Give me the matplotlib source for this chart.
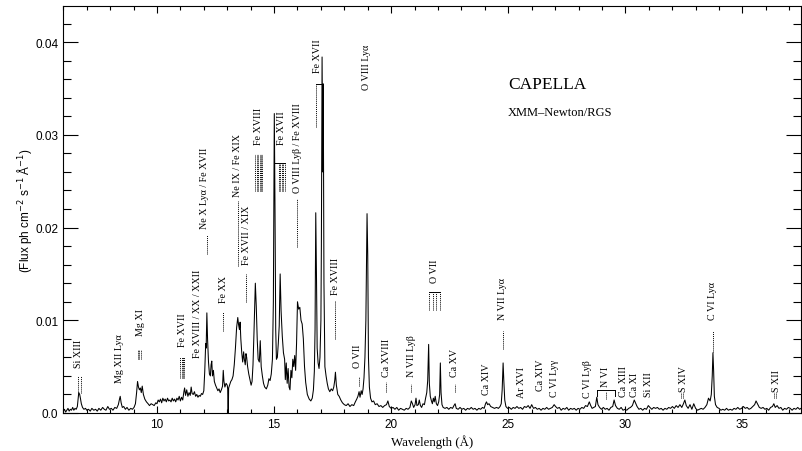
import matplotlib.pyplot as plt
import numpy as np
from matplotlib.ticker import MultipleLocator

# RGS spectrum of Capella: (wavelength in A, flux in 1e-3 ph cm^-2 s^-1 A^-1)
spec_short = [
    (6.00, 0.2), (6.05, 0.4), (6.10, 0.1), (6.15, 0.3), (6.20, 0.5), (6.25, 0.2),
    (6.30, 0.4), (6.35, 0.3), (6.40, 0.6), (6.45, 0.3), (6.50, 0.5), (6.55, 0.4),
    (6.60, 0.7), (6.63, 1.5), (6.66, 2.2), (6.70, 2.0), (6.73, 1.6), (6.77, 1.0),
    (6.82, 0.6), (6.88, 0.4), (6.95, 0.5), (7.00, 0.3), (7.08, 0.4), (7.15, 0.2),
    (7.22, 0.5), (7.30, 0.3), (7.38, 0.4), (7.45, 0.2), (7.52, 0.5), (7.60, 0.3),
    (7.68, 0.6), (7.75, 0.4), (7.82, 0.3), (7.90, 0.7), (7.97, 0.4), (8.05, 0.5),
    (8.12, 0.3), (8.20, 0.6), (8.28, 0.5), (8.35, 0.9), (8.40, 1.5), (8.43, 1.8),
    (8.47, 1.1), (8.52, 0.6), (8.58, 0.7), (8.65, 0.4), (8.72, 0.6), (8.80, 0.3),
    (8.88, 0.5), (8.95, 0.4), (9.02, 0.6), (9.08, 1.0), (9.13, 2.2), (9.17, 3.4),
    (9.21, 2.8), (9.25, 2.5), (9.29, 2.7), (9.33, 2.2), (9.37, 2.9), (9.42, 2.0),
    (9.48, 1.5), (9.55, 1.2), (9.62, 1.0), (9.68, 0.8), (9.75, 1.0), (9.82, 0.9),
    (9.88, 0.8), (9.95, 1.1), (10.00, 1.0), (10.05, 1.4), (10.10, 1.2), (10.15, 1.5),
    (10.20, 1.1), (10.25, 1.6), (10.30, 1.3), (10.35, 1.5), (10.40, 1.2), (10.45, 1.6),
    (10.50, 1.3), (10.55, 1.4), (10.60, 1.2), (10.65, 1.6), (10.70, 1.3), (10.75, 1.5),
    (10.80, 1.2), (10.85, 1.6), (10.90, 1.4), (10.95, 1.8), (11.00, 1.3), (11.05, 1.7),
    (11.10, 1.4), (11.15, 2.3), (11.18, 2.7), (11.22, 1.9), (11.27, 2.5), (11.32, 1.8),
    (11.37, 2.2), (11.42, 1.9), (11.46, 2.8), (11.50, 2.1), (11.55, 2.0), (11.60, 2.3),
    (11.65, 1.8), (11.70, 2.0), (11.75, 1.7), (11.80, 1.9), (11.85, 1.8), (11.90, 2.1),
    (11.95, 2.0), (12.00, 2.4),
]
spec_iron = [
    (12.04, 4.5), (12.08, 7.5), (12.10, 7.0), (12.13, 10.8), (12.16, 8.0), (12.20, 5.5),
    (12.24, 4.2), (12.28, 4.0), (12.31, 5.2), (12.34, 5.6), (12.37, 4.0), (12.41, 4.6),
    (12.45, 3.4), (12.50, 3.0), (12.55, 2.7), (12.60, 2.4), (12.65, 2.6), (12.70, 2.2),
    (12.75, 2.5), (12.80, 2.9), (12.83, 4.6), (12.86, 3.4), (12.90, 2.8), (12.95, 3.2),
    (13.00, 3.0), (13.02, 2.6), (13.04, -1.0), (13.06, 2.7), (13.10, 3.0), (13.15, 3.4),
    (13.20, 3.6), (13.25, 4.0), (13.30, 5.2), (13.35, 7.0), (13.40, 9.2), (13.45, 10.3),
    (13.48, 9.6), (13.52, 9.0), (13.55, 9.8), (13.58, 8.0), (13.62, 6.5), (13.66, 5.5),
    (13.70, 6.6), (13.73, 5.8), (13.77, 5.2), (13.80, 6.4), (13.83, 6.0), (13.87, 5.0),
    (13.92, 4.2), (13.97, 3.6), (14.02, 3.0), (14.06, 3.4), (14.10, 5.2), (14.14, 8.5),
    (14.20, 14.0), (14.24, 11.5), (14.28, 8.0), (14.32, 5.8), (14.37, 5.5), (14.41, 7.8),
    (14.45, 5.0), (14.50, 4.0), (14.55, 3.2), (14.60, 2.8), (14.67, 2.6), (14.73, 3.0),
    (14.78, 3.7), (14.83, 3.5), (14.88, 4.2), (14.93, 5.8), (14.97, 12.0), (15.01, 32.3),
    (15.04, 22.0), (15.07, 9.0), (15.10, 5.8), (15.14, 6.0), (15.18, 7.5), (15.22, 9.4),
    (15.26, 15.0), (15.30, 11.0), (15.35, 8.3), (15.40, 6.5), (15.45, 5.8), (15.48, 3.6),
    (15.52, 5.4), (15.56, 3.2), (15.60, 4.8), (15.64, 2.8), (15.68, 2.5), (15.72, 4.6),
    (15.76, 3.8), (15.80, 5.8), (15.84, 5.0), (15.88, 6.2), (15.92, 4.6), (15.96, 7.5),
    (16.00, 12.0), (16.05, 11.2), (16.10, 11.4), (16.15, 10.0), (16.20, 9.6), (16.25, 8.0),
    (16.30, 5.0), (16.35, 3.3), (16.42, 2.0), (16.50, 1.5), (16.57, 1.3), (16.63, 1.6),
    (16.68, 2.5), (16.72, 4.5), (16.75, 9.0), (16.78, 21.6), (16.81, 15.0), (16.84, 7.0),
    (16.88, 5.4), (16.92, 4.8), (16.96, 6.0), (17.00, 10.0), (17.02, 18.0), (17.05, 38.4),
    (17.08, 26.0), (17.10, 35.5), (17.13, 14.0), (17.17, 5.0), (17.22, 4.0), (17.27, 3.2),
    (17.32, 2.6), (17.38, 2.3), (17.44, 2.6), (17.50, 2.4), (17.55, 2.8), (17.59, 3.5),
    (17.62, 4.4), (17.66, 3.0), (17.72, 2.0), (17.78, 1.8), (17.85, 1.4), (17.92, 1.1),
    (18.00, 0.9), (18.08, 0.8), (18.16, 1.0), (18.24, 0.7), (18.32, 0.9), (18.40, 0.8),
    (18.47, 1.2), (18.53, 1.5), (18.58, 1.8), (18.63, 2.3), (18.67, 1.7), (18.72, 2.4),
    (18.76, 2.0), (18.80, 2.6), (18.84, 3.8), (18.88, 6.0), (18.92, 10.0), (18.95, 16.5),
    (18.97, 21.5), (19.00, 17.0), (19.03, 6.0), (19.07, 2.8),
]
spec_long = [
    (19.12, 1.6), (19.18, 1.2), (19.25, 1.3), (19.32, 0.9), (19.40, 1.0), (19.48, 0.7),
    (19.56, 0.8), (19.64, 0.6), (19.72, 0.8), (19.80, 0.9), (19.86, 1.3), (19.92, 0.7),
    (20.00, 0.5), (20.08, 0.6), (20.16, 0.4), (20.24, 0.6), (20.32, 0.3), (20.40, 0.5),
    (20.48, 0.4), (20.56, 0.3), (20.64, 0.5), (20.72, 0.4), (20.80, 0.6), (20.86, 1.3),
    (20.91, 1.0), (20.96, 0.6), (21.02, 0.9), (21.06, 1.6), (21.10, 0.8), (21.16, 0.9),
    (21.20, 1.4), (21.25, 0.8), (21.30, 0.6), (21.36, 1.0), (21.42, 0.9), (21.47, 1.6),
    (21.52, 2.2), (21.56, 3.5), (21.60, 7.4), (21.63, 3.2), (21.67, 1.8), (21.72, 1.3),
    (21.76, 1.0), (21.80, 1.6), (21.84, 1.2), (21.88, 1.8), (21.93, 1.0), (21.98, 0.8),
    (22.03, 1.2), (22.07, 2.0), (22.10, 5.4), (22.13, 2.2), (22.17, 0.9), (22.22, 0.6),
    (22.30, 0.5), (22.38, 0.6), (22.46, 0.4), (22.54, 0.6), (22.62, 0.5), (22.68, 0.8),
    (22.73, 1.0), (22.78, 0.5), (22.86, 0.4), (22.94, 0.6), (23.02, 0.4), (23.10, 0.5),
    (23.18, 0.3), (23.26, 0.5), (23.34, 0.4), (23.42, 0.6), (23.50, 0.4), (23.58, 0.5),
    (23.66, 0.3), (23.74, 0.5), (23.82, 0.4), (23.90, 0.6), (23.97, 0.5), (24.03, 1.0),
    (24.07, 1.2), (24.12, 0.9), (24.18, 1.0), (24.25, 0.7), (24.33, 0.6), (24.41, 0.5),
    (24.50, 0.6), (24.58, 0.5), (24.65, 0.7), (24.70, 1.0), (24.74, 2.5), (24.78, 5.4),
    (24.81, 3.5), (24.85, 1.4), (24.90, 0.7), (24.97, 0.5), (25.05, 0.6), (25.13, 0.4),
    (25.21, 0.6), (25.29, 0.5), (25.37, 0.7), (25.45, 0.5), (25.53, 0.6), (25.61, 0.4),
    (25.69, 0.7), (25.77, 0.6), (25.85, 0.8), (25.93, 0.5), (26.00, 0.9), (26.08, 0.5),
    (26.16, 0.6), (26.24, 0.4), (26.32, 0.5), (26.40, 0.3), (26.48, 0.5), (26.56, 0.4),
    (26.64, 0.6), (26.72, 0.4), (26.80, 0.5), (26.88, 0.6), (26.96, 0.9), (27.02, 0.7),
    (27.10, 0.5), (27.18, 0.6), (27.26, 0.3), (27.34, 0.5), (27.42, 0.4), (27.50, 0.6),
    (27.58, 0.3), (27.66, 0.5), (27.74, 0.4), (27.82, 0.5), (27.90, 0.3), (27.98, 0.5),
    (28.06, 0.4), (28.14, 0.6), (28.22, 0.5), (28.30, 0.8), (28.38, 0.7), (28.46, 1.2),
    (28.52, 0.8), (28.58, 0.5), (28.65, 0.6), (28.72, 0.7), (28.78, 1.7), (28.83, 0.9),
    (28.90, 0.6), (28.98, 0.4), (29.06, 0.6), (29.14, 0.4), (29.22, 0.5), (29.30, 0.3),
    (29.38, 0.6), (29.46, 0.7), (29.52, 1.4), (29.58, 0.8), (29.66, 0.5), (29.74, 0.4),
    (29.82, 0.6), (29.90, 0.3), (29.98, 0.4), (30.06, 0.3), (30.14, 0.5), (30.22, 0.6),
    (30.30, 0.8), (30.38, 1.4), (30.43, 1.1), (30.50, 0.7), (30.58, 0.4), (30.66, 0.5),
    (30.74, 0.3), (30.82, 0.5), (30.90, 0.4), (30.98, 0.8), (31.05, 0.6), (31.13, 0.4),
    (31.21, 0.6), (31.29, 0.5), (31.37, 0.6), (31.45, 0.4), (31.53, 0.5), (31.61, 0.3),
    (31.69, 0.5), (31.77, 0.4), (31.85, 0.6), (31.93, 0.5), (32.01, 0.7), (32.09, 0.5),
    (32.17, 0.8), (32.25, 0.6), (32.33, 0.9), (32.41, 0.6), (32.48, 1.0), (32.54, 1.4),
    (32.60, 0.8), (32.68, 0.5), (32.76, 0.9), (32.84, 0.4), (32.92, 1.0), (33.00, 0.5),
    (33.08, 0.3), (33.16, 0.4), (33.24, 0.5), (33.32, 0.4), (33.40, 0.6), (33.48, 0.9),
    (33.55, 1.6), (33.62, 1.3), (33.67, 2.0), (33.71, 4.0), (33.74, 6.5), (33.77, 4.5),
    (33.80, 1.8), (33.85, 0.9), (33.92, 0.6), (34.00, 0.5), (34.08, 0.3), (34.16, 0.4),
    (34.24, 0.3), (34.32, 0.5), (34.40, 0.3), (34.48, 0.4), (34.56, 0.3), (34.64, 0.5),
    (34.72, 0.4), (34.80, 0.6), (34.88, 0.4), (34.96, 0.5), (35.04, 0.7), (35.12, 0.5),
    (35.20, 0.6), (35.28, 0.4), (35.36, 0.5), (35.44, 0.7), (35.52, 0.9), (35.58, 1.3),
    (35.64, 1.0), (35.72, 0.6), (35.80, 0.5), (35.88, 0.6), (35.96, 0.4), (36.04, 0.5),
    (36.12, 0.3), (36.20, 0.6), (36.28, 0.7), (36.34, 1.0), (36.40, 0.6), (36.48, 0.8),
    (36.56, 0.5), (36.64, 0.6), (36.72, 0.3), (36.80, 0.5), (36.88, 0.4), (36.96, 0.6),
    (37.04, 0.5), (37.12, 0.3), (37.20, 0.5), (37.28, 0.4), (37.36, 0.6), (37.44, 0.4),
    (37.50, 0.5),
]

# line identifications and the wavelength each label sits at
line_names = [
    "Si XIII", "Mg XII Lyα", "Mg XI", "Fe XVII", "Fe XVIII / XX / XXII",
    "Ne X Lyα / Fe XVII", "Fe XX", "Ne IX / Fe XIX", "Fe XVII / XIX", "Fe XVIII",
    "Fe XVII", "O VIII Lyβ / Fe XVIII", "Fe XVII", "Fe XVIII", "O VIII Lyα",
    "O VII", "Ca XVIII", "N VII Lyβ", "O VII", "Ca XV", "Ca XIV", "N VII Lyα",
    "Ar XVI", "Ca XIV", "C VI Lyγ", "C VI Lyβ", "N VI", "Ca XIII", "Ca XI",
    "Si XII", "S XIV", "C VI Lyα", "S XII",
]
line_waves = [
    6.67, 8.42, 9.28, 11.07, 11.73,
    12.05, 12.82, 13.42, 13.84, 14.35,
    15.33, 16.02, 16.87, 17.64, 18.96,
    18.58, 19.82, 20.88, 21.86, 22.71, 24.07, 24.77,
    25.58, 26.39, 26.99, 28.40, 29.16, 29.93, 30.40,
    31.00, 32.49, 33.72, 36.45,
]
# bottom of each rotated label (1e-3 flux units)
label_base = [
    5.0, 3.3, 8.4, 7.2, 6.0,
    20.0, 12.0, 23.4, 16.1, 29.0,
    29.0, 23.8, 36.8, 12.8, 35.0,
    5.0, 4.0, 4.0, 14.1, 4.0, 2.0, 10.1,
    1.7, 2.5, 1.8, 1.7, 2.9, 1.8, 1.8,
    1.8, 2.4, 10.1, 2.4,
]

# dotted tick marks under the labels: (wavelengths, from, to)
tick_marks = [
    ([6.64, 6.74], 2.2, 4.0),
    ([9.20, 9.25, 9.31], 5.8, 6.8),
    ([11.00, 11.07, 11.13, 11.17], 3.8, 6.0),
    ([12.13], 17.2, 19.2),
    ([12.83], 8.8, 10.9),
    ([13.45], 15.9, 22.9),
    ([13.82], 12.0, 15.0),
    ([14.20, 14.26, 14.32, 14.38, 14.44, 14.50], 23.9, 27.9),
    ([15.20, 15.26, 15.33, 15.40, 15.45], 23.9, 27.0),
    ([16.00], 17.9, 23.1),
    ([16.78], 30.9, 35.5),
    ([17.62], 8.0, 12.1),
    ([18.63], 2.9, 3.9),
    ([19.78], 2.3, 3.3),
    ([20.84], 2.3, 3.1),
    ([21.60, 21.80, 21.91, 22.10], 11.1, 13.1),
    ([22.72], 2.3, 3.1),
    ([24.78], 6.9, 8.8),
    ([29.19], 1.5, 2.3),
    ([32.38, 32.45], 1.6, 2.3),
    ([33.73], 6.6, 8.8),
    ([36.36, 36.42], 1.6, 2.3),
]
# horizontal brackets joining blended lines: (left, right, height)
brackets = [
    (15.01, 15.45, 27.0),
    (16.78, 17.05, 35.5),
    (21.60, 22.10, 13.1),
    (28.78, 29.54, 2.5),
]

wave, flux = np.array(spec_short + spec_iron + spec_long).T
flux = flux * 1e-3

serif = "Liberation Serif"
sans = "Liberation Sans"

fig = plt.figure(figsize=(8.02, 4.52), dpi=100)
ax = fig.add_axes([63.3 / 802, 38 / 452, (801 - 63.3) / 802, 407 / 452])

ax.plot(wave, flux, color="black", lw=0.75)

for waves, y0, y1 in tick_marks:
    for w in waves:
        ax.plot([w, w], [y0 * 1e-3, y1 * 1e-3], color="black", lw=0.7,
                linestyle=(0, (1, 1)))
for w0, w1, h in brackets:
    ax.plot([w0, w1], [h * 1e-3, h * 1e-3], color="black", lw=0.7)
# N VI bracket has short solid legs
ax.plot([28.78, 28.78], [1.8e-3, 2.5e-3], color="black", lw=0.7)
ax.plot([29.54, 29.54], [1.8e-3, 2.5e-3], color="black", lw=0.7)

for name, w, base in zip(line_names, line_waves, label_base):
    ax.text(w, base * 1e-3, name, rotation=90, ha="center", va="bottom",
            fontsize=7.2, family=serif)

ax.text(24.98, 0.0355, "CAPELLA", fontsize=12.5, family=serif, ha="left", va="center")
ax.text(24.98, 0.0325, "XMM\u2013Newton/RGS", fontsize=9, family=serif,
        ha="left", va="center")

ax.set_xlim(6, 37.5)
ax.set_ylim(0, 0.0439)
ax.set_xticks([10, 15, 20, 25, 30, 35])
ax.set_yticks([0.0, 0.01, 0.02, 0.03, 0.04])
ax.set_yticklabels(["0.0", "0.01", "0.02", "0.03", "0.04"])
ax.xaxis.set_minor_locator(MultipleLocator(1))
ax.yaxis.set_minor_locator(MultipleLocator(0.002))
ax.tick_params(which="both", direction="in", top=True, right=True, width=0.8,
               labelsize=8.5, pad=3.5)
ax.tick_params(axis="y", which="major", length=10.8)
ax.tick_params(axis="y", which="minor", length=5.8)
ax.tick_params(axis="x", which="major", length=5.0)
ax.tick_params(axis="x", which="minor", length=2.9)
for lab in ax.get_xticklabels() + ax.get_yticklabels():
    lab.set_family(sans)
for sp in ax.spines.values():
    sp.set_linewidth(0.8)

ax.set_xlabel("Wavelength (Å)", fontsize=9.3, family=serif, labelpad=3)
ax.set_ylabel(r"(Flux ph cm$^{-2}$ s$^{-1}$ Å$^{-1}$)", fontsize=8.5, family=sans,
              labelpad=1)

fig.savefig("out.png", dpi=100)
